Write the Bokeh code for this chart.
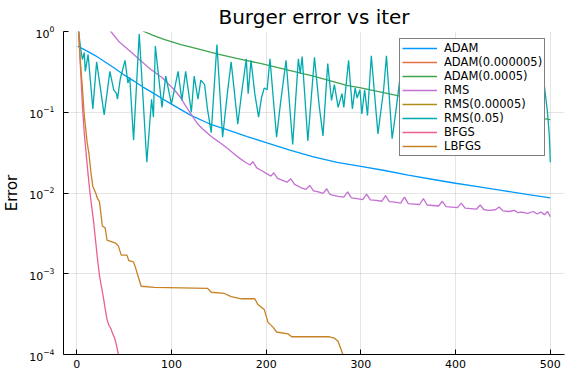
from bokeh.plotting import figure
from bokeh.embed import file_html
from bokeh.resources import INLINE
from bokeh.models import Range1d, FixedTicker

# ---------------- data ----------------
adam_x = [1, 10, 20, 30, 40, 50, 60, 70, 80, 90, 100, 120, 140, 160, 180, 200, 225, 250, 275,
          300, 325, 350, 375, 400, 425, 450, 475, 500]
adam_y = [0.66, 0.58, 0.50, 0.42, 0.35, 0.29, 0.245, 0.205, 0.175, 0.148, 0.126, 0.092, 0.072,
          0.060, 0.050, 0.042, 0.034, 0.028, 0.024, 0.0214, 0.019, 0.0166, 0.0148, 0.0132,
          0.0119, 0.0107, 0.0096, 0.0087]

adam_s_x = [1, 100, 200, 300, 400, 500]
adam_s_y = [4.0, 3.5, 3.1, 2.8, 2.5, 2.3]

adam_m_x = [1, 30, 60, 71, 80, 92, 110, 130, 148, 170, 195, 220, 250, 285, 300, 340, 380, 420,
            460, 500]
adam_m_y = [3.5, 2.0, 1.25, 1.0, 0.90, 0.80, 0.69, 0.60, 0.53, 0.46, 0.40, 0.34, 0.28, 0.215,
            0.20, 0.16, 0.135, 0.115, 0.097, 0.081]

rms_x = [1, 10, 20, 30, 36, 45, 57, 67, 78, 90, 103, 110, 114, 124, 128, 133, 142, 150, 160,
         170, 178, 183, 186, 190, 195, 200, 205, 208, 212, 216, 222, 226, 230, 237, 242, 246,
         250, 255, 260, 264, 267, 270, 276, 282, 286, 290, 296, 302, 306, 310, 316, 322, 326,
         330, 336, 342, 346, 350, 356, 362, 366, 370, 376, 382, 386, 390, 396, 402, 406, 410,
         416, 422, 426, 430, 436, 442, 446, 450, 456, 462, 466, 470, 476, 482, 486, 490, 494,
         497, 500]
rms_y = [8.0, 4.0, 2.2, 1.35, 1.0, 0.74, 0.56, 0.44, 0.34, 0.27, 0.19, 0.15, 0.125, 0.083,
         0.071, 0.062, 0.050, 0.043, 0.035, 0.028, 0.024, 0.0222, 0.0245, 0.0205, 0.019, 0.0175,
         0.0162, 0.0178, 0.0152, 0.0145, 0.0136, 0.0150, 0.0128, 0.0116, 0.0111, 0.0124,
         0.0106, 0.0103, 0.0099, 0.0113, 0.0097, 0.0094, 0.0091, 0.0089, 0.0103, 0.0087,
         0.0085, 0.0083, 0.0097, 0.0082, 0.0081, 0.0079, 0.0093, 0.0078, 0.0077, 0.0075,
         0.0089, 0.0074, 0.0073, 0.0072, 0.0085, 0.0071, 0.0070, 0.0069, 0.0079, 0.0068,
         0.0067, 0.0066, 0.0075, 0.0065, 0.0064, 0.0063, 0.0071, 0.0062, 0.0061, 0.0062,
         0.0067, 0.0060, 0.0059, 0.0061, 0.0057, 0.0058, 0.0056, 0.0059, 0.0055, 0.0058,
         0.0054, 0.0059, 0.0051]

rms_s_x = [1, 100, 200, 300, 400, 500]
rms_s_y = [5.0, 3.0, 2.2, 1.8, 1.6, 1.4]

rms_f_x = [1, 2, 4, 6, 8, 9, 12, 17, 21, 29, 35, 39, 42, 43, 46, 51, 54, 56, 60, 66, 74, 79,
           81, 83, 90, 94, 100, 107, 111, 115, 121, 124, 128, 131, 135, 138, 142, 148, 154,
           159, 163, 166, 170, 174, 179, 181, 184, 188, 192, 195, 198, 201, 204, 211, 215, 221,
           228, 234, 236, 238, 244, 251, 256, 260, 265, 269, 272, 276, 280, 282, 287, 291, 294,
           296, 299, 301, 304, 307, 311, 318, 324, 327, 333, 337, 340, 344, 349, 354, 358, 363,
           368, 373, 378, 383, 388, 393, 398, 403, 408, 413, 418, 423, 428, 433, 438, 443, 448,
           453, 458, 463, 468, 473, 478, 483, 488, 493, 497, 499, 500]
rms_f_y = [1.6, 1.02, 0.63, 0.45, 0.55, 0.32, 0.52, 0.11, 0.42, 0.093, 0.32, 0.19, 0.17, 0.145,
           0.26, 0.44, 0.23, 0.27, 0.045, 0.93, 0.024, 0.145, 0.087, 0.66, 0.115, 0.28, 0.126,
           0.32, 0.14, 0.32, 0.10, 0.28, 0.145, 0.25, 0.22, 0.11, 0.056, 0.69, 0.049, 0.17,
           0.42, 0.20, 0.071, 0.17, 0.46, 0.17, 0.44, 0.17, 0.087, 0.15, 0.20, 0.19, 0.46,
           0.049, 0.126, 0.44, 0.040, 0.46, 0.30, 0.49, 0.044, 0.48, 0.12, 0.051, 0.40, 0.14,
           0.22, 0.115, 0.17, 0.115, 0.44, 0.11, 0.20, 0.15, 0.19, 0.095, 0.19, 0.091, 0.50,
           0.054, 0.19, 0.50, 0.047, 0.105, 0.20, 0.50, 0.08, 0.32, 0.063, 0.45, 0.05, 0.25,
           0.126, 0.45, 0.056, 0.32, 0.10, 0.50, 0.05, 0.25, 0.126, 0.40, 0.045, 0.28, 0.10,
           0.50, 0.05, 0.20, 0.10, 0.45, 0.05, 0.32, 0.11, 0.50, 0.063, 0.25, 0.10, 0.05, 0.024]

bfgs_x = [1, 2, 4, 6, 8, 10, 12, 14, 16, 18, 20, 22, 24, 26, 28, 30, 32, 34, 36, 38, 40, 42,
          44, 46]
bfgs_y = [3.0, 1.0, 0.35, 0.12, 0.055, 0.03, 0.017, 0.01, 0.0065, 0.0042, 0.0025, 0.0015,
          0.00095, 0.0007, 0.00052, 0.00037, 0.00027, 0.00023, 0.00021, 0.00018, 0.00016,
          0.00013, 0.0001, 0.00008]

lbfgs_x = [1, 2, 4, 6, 8, 10, 11, 13, 15, 17, 20, 22, 24, 26, 27, 30, 32, 41, 44, 47, 53, 55,
           60, 62, 64, 68, 82, 138, 142, 156, 163, 174, 188, 191, 198, 202, 207, 211, 223, 227,
           266, 272, 276, 281, 284]
lbfgs_y = [3.0, 1.0, 0.4, 0.2, 0.09, 0.055, 0.042, 0.03, 0.018, 0.012, 0.010, 0.0085, 0.0078,
           0.005, 0.0039, 0.0037, 0.0026, 0.0024, 0.0022, 0.0017, 0.0017, 0.00145, 0.0014,
           0.0012, 0.001, 0.0007, 0.00068, 0.00066, 0.00059, 0.00057, 0.00052, 0.00049,
           0.00049, 0.00042, 0.00036, 0.00025, 0.00022, 0.00019, 0.00018, 0.000166, 0.000166,
           0.00016, 0.000145, 0.0001, 0.00007]

series = [
    ("ADAM", adam_x, adam_y, "#009AFA"),
    ("ADAM(0.000005)", adam_s_x, adam_s_y, "#E36F47"),
    ("ADAM(0.0005)", adam_m_x, adam_m_y, "#3EA44E"),
    ("RMS", rms_x, rms_y, "#C371D2"),
    ("RMS(0.00005)", rms_s_x, rms_s_y, "#AC8E18"),
    ("RMS(0.05)", rms_f_x, rms_f_y, "#00AAAE"),
    ("BFGS", bfgs_x, bfgs_y, "#ED5E93"),
    ("LBFGS", lbfgs_x, lbfgs_y, "#C68225"),
]

x_ticks = [0, 100, 200, 300, 400, 500]

FONT = "DejaVu Sans"

p = figure(frame_width=501, frame_height=323, y_axis_type="log",
           x_range=Range1d(-13.97, 514.97), y_range=Range1d(1e-4, 1),
           title="Burger error vs iter", output_backend="svg", toolbar_location=None,
           min_border_left=59, min_border_right=5, min_border_top=29, min_border_bottom=21)

p.title.text_font = FONT
p.title.text_font_size = "20px"
p.title.text_font_style = "normal"
p.title.align = "center"
p.title.text_color = "black"
p.title.standoff = 5
p.title.offset = 0

p.outline_line_color = None
p.background_fill_color = "white"
p.border_fill_color = "white"

for ax in (p.xaxis, p.yaxis):
    ax.axis_line_color = "black"
    ax.axis_line_width = 1
    ax.major_tick_in = 5
    ax.major_tick_out = 0
    ax.major_tick_line_color = "black"
    ax.minor_tick_line_color = None
    ax.major_label_text_font = FONT
    ax.major_label_text_font_size = "11px"
    ax.major_label_text_color = "black"
    ax.major_label_standoff = 5

p.xaxis.ticker = FixedTicker(ticks=x_ticks)
p.yaxis.axis_label = "Error"
p.yaxis.axis_label_text_font = FONT
p.yaxis.axis_label_text_font_size = "15px"
p.yaxis.axis_label_text_font_style = "normal"
p.yaxis.axis_label_text_color = "black"
p.yaxis.axis_label_standoff = 5

p.xgrid.grid_line_color = "black"
p.xgrid.grid_line_alpha = 0.1
p.ygrid.grid_line_color = "black"
p.ygrid.grid_line_alpha = 0.1
p.ygrid.minor_grid_line_color = None

for name, xs, ys, col in series:
    p.line(xs, ys, line_color=col, line_width=1.3, legend_label=name)

lg = p.legend[0]
lg.location = (336, 198)
lg.label_text_font = FONT
lg.label_text_font_size = "11.5px"
lg.label_text_color = "black"
lg.glyph_width = 35
lg.glyph_height = 12
lg.label_height = 12
lg.label_standoff = 7
lg.spacing = 0
lg.padding = 2
lg.margin = 0
lg.border_line_color = "black"
lg.border_line_width = 1
lg.background_fill_color = "white"
lg.background_fill_alpha = 1.0

open("out.html", "w").write(file_html(p, INLINE))
